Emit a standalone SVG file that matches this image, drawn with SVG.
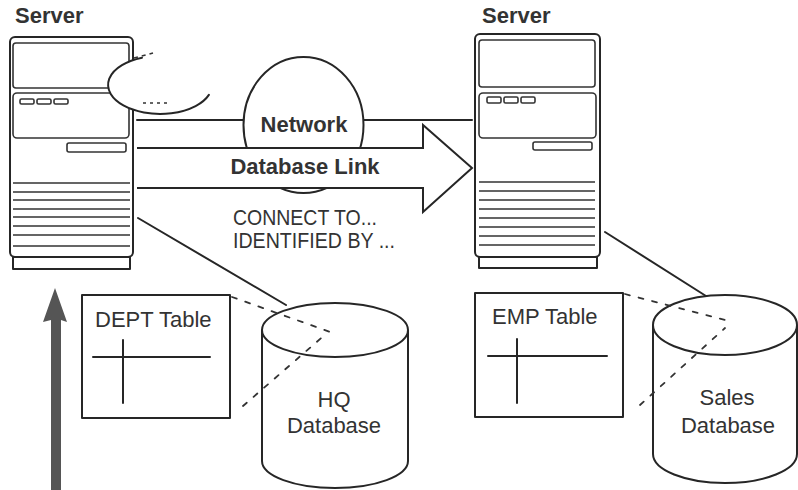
<svg xmlns="http://www.w3.org/2000/svg" width="798" height="490" viewBox="0 0 798 490">
  <style>
    .ln { fill: none; stroke: #262626; stroke-width: 2; stroke-linejoin: round; stroke-linecap: round; }
    .thin { fill: none; stroke: #333; stroke-width: 1.6; }
    .wfill { fill: #fff; stroke: #262626; stroke-width: 2; }
    .dash { fill: none; stroke: #333; stroke-width: 1.8; stroke-dasharray: 5 9; stroke-linecap: round; }
    .lbl { font-family: "Liberation Sans", Arial, sans-serif; fill: #333; font-size: 22px; }
    .bold { font-weight: bold; }
    .mid { text-anchor: middle; }
  </style>
  <rect width="798" height="490" fill="#fff"/>

  <!-- HQ server tower -->
  <g id="server-hq">
    <text class="lbl bold" x="15" y="23" font-size="21.5">Server</text>
    <rect class="ln" x="10" y="37" width="123" height="220" rx="5"/>
    <rect class="ln" x="13" y="257" width="117" height="12"/>
    <rect class="thin" x="13" y="43" width="116" height="45" rx="3"/>
    <rect class="thin" x="13" y="93" width="116" height="45" rx="4"/>
    <g class="thin">
      <rect x="20" y="99" width="14" height="5" rx="1.5"/>
      <rect x="37" y="99" width="14" height="5" rx="1.5"/>
      <rect x="54" y="99" width="14" height="5" rx="1.5"/>
      <rect x="67" y="143" width="59" height="9" rx="2"/>
      <path d="M13 183H130M13 192H130M13 200H130M13 209H130M13 217H130M13 226H130M13 235H130M13 246H130"/>
    </g>
  </g>

  <!-- client bubble over the HQ server -->
  <g id="client-bubble">
    <ellipse cx="160" cy="85" rx="52" ry="29" fill="#fff"/>
    <path class="ln" d="M142 57.7 A52 29 0 1 0 208.9 94.9"/>
    <path class="thin" d="M134 58 L153 53" stroke-dasharray="4 4"/>
    <path class="thin" d="M143 103 H170" stroke-dasharray="3 4"/>
  </g>

  <!-- Sales server tower -->
  <g id="server-sales">
    <text class="lbl bold" x="482" y="23" font-size="21.5">Server</text>
    <rect class="ln" x="475" y="34" width="125" height="223" rx="5"/>
    <rect class="ln" x="479" y="257" width="118" height="11"/>
    <rect class="thin" x="479" y="40" width="116" height="47" rx="3"/>
    <rect class="thin" x="479" y="93" width="117" height="45" rx="4"/>
    <g class="thin">
      <rect x="487" y="97" width="14" height="6" rx="1.5"/>
      <rect x="504" y="97" width="14" height="6" rx="1.5"/>
      <rect x="521" y="97" width="14" height="6" rx="1.5"/>
      <rect x="533" y="142" width="59" height="8" rx="2"/>
      <path d="M479 182H595M479 191H595M479 200H595M479 209H595M479 218H595M479 227H595M479 236H595M479 245H595"/>
    </g>
  </g>

  <!-- network line and bubble -->
  <g id="network">
    <path class="ln" d="M137 120 H472"/>
    <ellipse class="wfill" cx="303.5" cy="125" rx="60" ry="68"/>
    <text class="lbl bold mid" x="304" y="132">Network</text>
  </g>

  <!-- database link arrow -->
  <g id="database-link">
    <path class="wfill" d="M137 148 H423 V125 L472 168 L423 212 V188 H137" stroke-linejoin="miter"/>
    <text class="lbl bold mid" x="305" y="174">Database Link</text>
    <text class="lbl" x="233" y="225" font-size="20" textLength="144" lengthAdjust="spacingAndGlyphs">CONNECT TO...</text>
    <text class="lbl" x="233" y="248" font-size="20" textLength="162" lengthAdjust="spacingAndGlyphs">IDENTIFIED BY ...</text>
  </g>

  <!-- DEPT table -->
  <g id="dept-table">
    <rect class="ln" x="82" y="295" width="148" height="123"/>
    <text class="lbl" x="95" y="327">DEPT Table</text>
    <path class="ln" d="M93 357 H210 M123 340 V403"/>
  </g>

  <!-- HQ database -->
  <g id="hq-database">
    <path class="wfill" d="M262 330 V461 A73 27 0 0 0 408 461 V330"/>
    <ellipse class="ln" cx="335" cy="330" rx="73" ry="27"/>
    <text class="lbl mid" x="334" y="407">HQ</text>
    <text class="lbl mid" x="334" y="433">Database</text>
  </g>

  <!-- EMP table -->
  <g id="emp-table">
    <rect class="ln" x="475" y="293" width="148" height="124"/>
    <text class="lbl" x="492" y="324">EMP Table</text>
    <path class="ln" d="M488 356 H607 M517 339 V403"/>
  </g>

  <!-- Sales database -->
  <g id="sales-database">
    <path class="wfill" d="M653 325 V454 A72 29 0 0 0 797 454 V325"/>
    <ellipse class="ln" cx="725" cy="325" rx="72" ry="30"/>
    <text class="lbl mid" x="727" y="405">Sales</text>
    <text class="lbl mid" x="728" y="433">Database</text>
  </g>

  <!-- connectors: server-to-database links, table projections, upward arrow -->
  <g id="connectors">
    <path class="ln" d="M138 218 L286 305"/>
    <path class="ln" d="M605 232 L706 296"/>
    <path class="dash" d="M232 297 L333 333"/>
    <path class="dash" d="M243 406 L327 333"/>
    <path class="dash" d="M625 294 L733 322"/>
    <path class="dash" d="M640 405 L725 328"/>
    <path d="M55 288 L67 322 L61 320 V490 H51 V320 L43 322 Z" fill="#555"/>
  </g>
</svg>
